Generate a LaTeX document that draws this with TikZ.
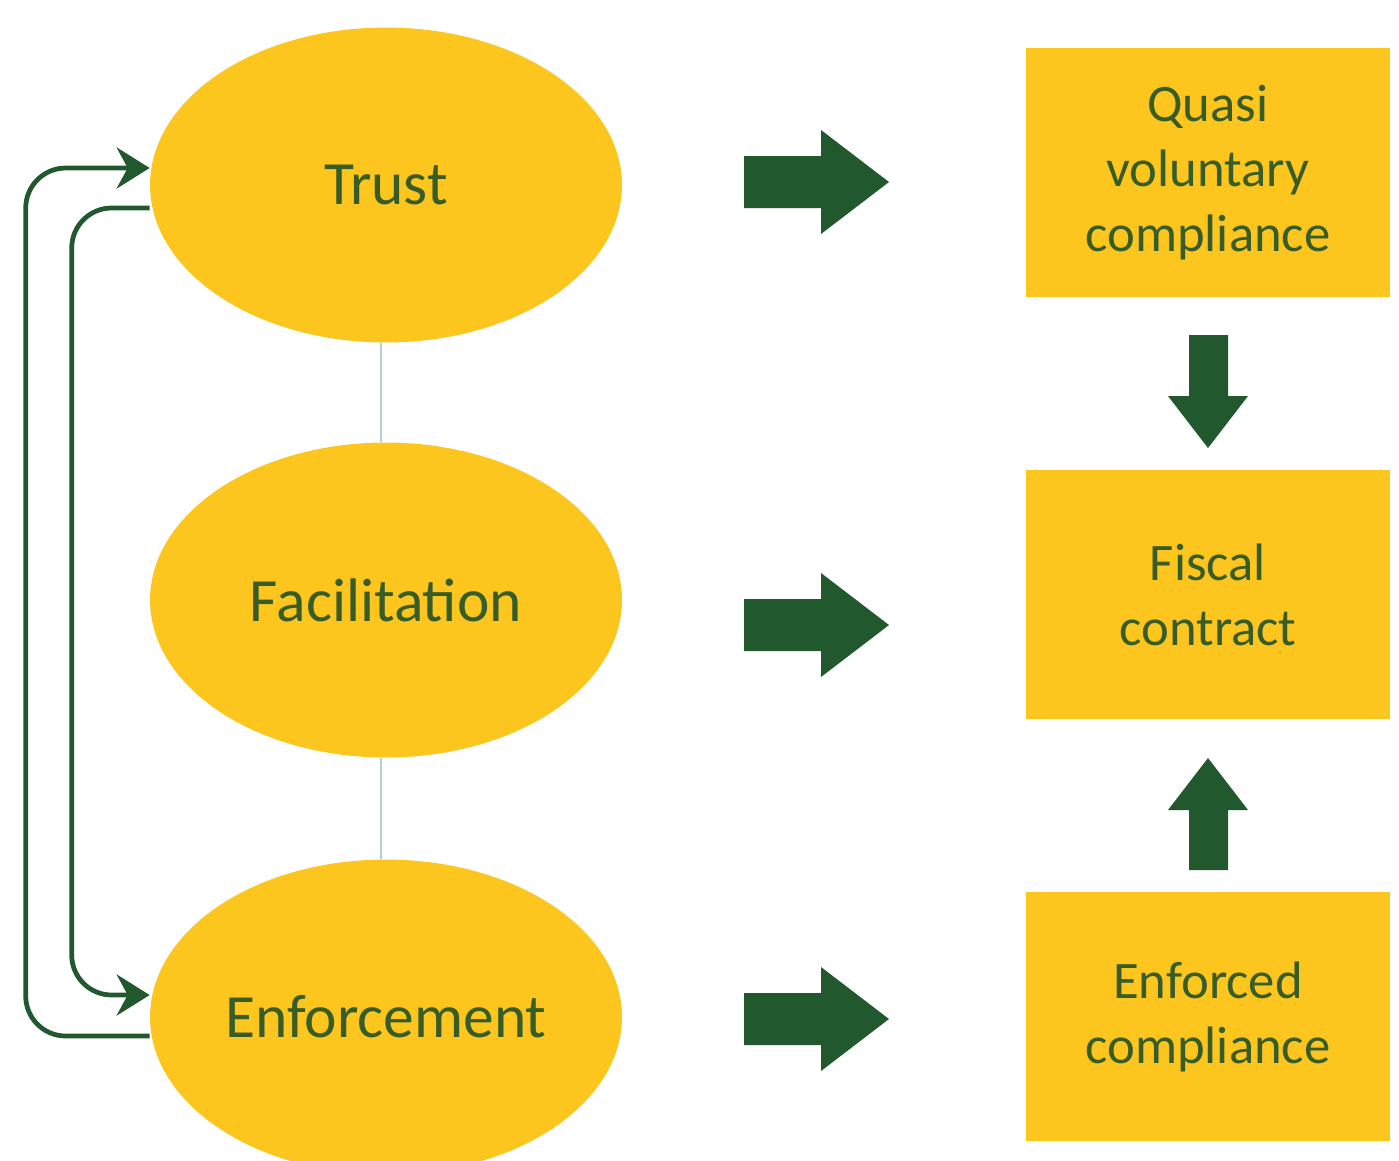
\documentclass[tikz,border=0pt]{standalone}
\usepackage{fontspec}
\setmainfont{Carlito}
\usetikzlibrary{shapes.geometric,arrows.meta}
\definecolor{gold}{RGB}{252,198,30}
\definecolor{dgreen}{RGB}{34,88,46}
\definecolor{tgreen}{RGB}{55,92,38}
\definecolor{sep}{RGB}{178,204,218}
\tikzset{
  oval/.style={ellipse, fill=gold, draw=none, minimum width=9.44cm, minimum height=6.3cm, inner sep=0pt,
    text=tgreen, font=\fontsize{35}{42}\selectfont},
  box/.style={rectangle, fill=gold, draw=none, minimum width=7.28cm, minimum height=4.98cm, inner sep=0pt,
    text=tgreen, align=center, font=\fontsize{30}{37}\selectfont},
  conn/.style={draw=dgreen, line width=2.7pt, rounded corners=0.8cm},
  tip/.style={-{Stealth[length=0.66cm,width=0.82cm,inset=0.22cm]}},
  blockarrow/.style={fill=dgreen, draw=none},
  sepline/.style={draw=sep, line width=1pt}
}
\begin{document}
\begin{tikzpicture}[x=0.02cm,y=-0.02cm]
\useasboundingbox (0,0) rectangle (1399,1160);
\node[oval] (trust) at (386,185) {Trust};
\node[oval] (fac) at (386,600) {Facilitation};
\node[oval] (enf) at (386,1017) {Enforcement};
\node[box] (quasi) at (1208,172.5) {Quasi\\voluntary\\compliance};
\node[box] (fiscal) at (1208,594.5) {Fiscal\\contract};
\node[box] (enfc) at (1208,1016.5) {Enforced\\compliance};
% separators
\draw[sepline] ([xshift=-0.1cm]trust.south) -- ([xshift=-0.1cm]fac.north);
\draw[sepline] ([xshift=-0.1cm]fac.south) -- ([xshift=-0.1cm]enf.north);
% loop connectors
\draw[conn,tip] ([yshift=-0.38cm]enf.west) -- ++(-2.48cm,0) |- ([yshift=0.34cm]trust.west);
\draw[conn,tip] ([yshift=-0.46cm]trust.west) -- ++(-1.56cm,0) |- ([yshift=0.44cm]enf.west);
% block arrows right
\foreach \c in {182,625,1019}{
  \fill[blockarrow] (744,\c-26) -- (821,\c-26) -- (821,\c-52) -- (889,\c) -- (821,\c+52) -- (821,\c+26) -- (744,\c+26) -- cycle;
}
% down arrow
\fill[blockarrow] (1189,335) -- (1228,335) -- (1228,396) -- (1248,396) -- (1208,448) -- (1168,396) -- (1189,396) -- cycle;
% up arrow
\fill[blockarrow] (1189,870) -- (1228,870) -- (1228,810) -- (1248,810) -- (1208,758) -- (1168,810) -- (1189,810) -- cycle;
\end{tikzpicture}
\end{document}
